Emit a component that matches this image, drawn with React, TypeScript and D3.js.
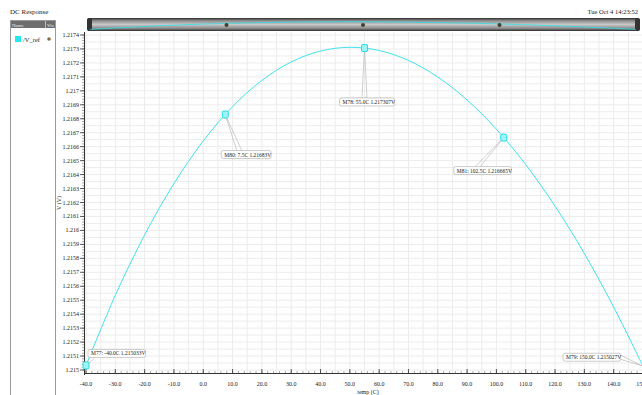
import * as d3 from "d3";

// DC sweep of the reference voltage over temperature
const temps = [-40, -30, -20, -10, 0, 10, 20, 30, 40, 50, 60, 70, 80, 90, 100, 110, 120, 130, 140, 150];
const vref = [
  1.215033, 1.215535, 1.215968, 1.216336, 1.216641, 1.216887, 1.217075, 1.217207, 1.217285, 1.217312,
  1.217289, 1.217218, 1.217099, 1.216934, 1.216725, 1.216471, 1.216174, 1.215834, 1.215451, 1.215027,
];

// markers
const markerNames = ["M77", "M80", "M78", "M81", "M79"];
const markerTemps = [-40, 7.5, 55, 102.5, 150];
const markerValues = [1.215033, 1.21683, 1.217307, 1.216665, 1.215027];
const markerTempText = ["-40.0C", "7.5C", "55.0C", "102.5C", "150.0C"];
const markerValueText = ["1.215033V", "1.21683V", "1.217307V", "1.216665V", "1.215027V"];

const xTickValues = d3.range(-40, 151, 10);
const yTickValues = d3.range(0, 25).map((i) => 1.215 + i * 0.0001);

// layout for the marker label boxes (offset of box from marker, anchor of leader on box)
const boxOffsets = [
  { dx: 2, dy: -16, ax: 4, ay: 9, side: false },
  { dx: -4, dy: 36, ax: 18, ay: 0, side: false },
  { dx: -25, dy: 50, ax: 25, ay: 0, side: false },
  { dx: -50, dy: 29, ax: 24, ay: 0, side: false },
  { dx: -80, dy: -13, ax: 55, ay: 4, side: true },
];

const W = 642;
const H = 395;
const serif = "'Liberation Serif', 'DejaVu Serif', serif";

export default function App() {
  const x = d3.scaleLinear().domain([-40, 150]).range([86, 643]);
  const y = d3.scaleLinear().domain([1.215, 1.2174]).range([370, 35]);
  const plotTop = 32;
  const plotBottom = 373;
  const plotLeft = 84;

  const pts: [number, number][] = temps.map((t, i) => [t, vref[i]]);
  const line = d3
    .line<[number, number]>()
    .x((d) => x(d[0]))
    .y((d) => y(d[1]))
    .curve(d3.curveCatmullRom);

  // overview in the top bar
  const xm = d3.scaleLinear().domain([-40, 150]).range([90, 636]);
  const ym = d3.scaleLinear().domain([1.215, 1.2174]).range([29.5, 21.5]);
  const miniLine = d3
    .line<[number, number]>()
    .x((d) => xm(d[0]))
    .y((d) => ym(d[1]))
    .curve(d3.curveCatmullRom);

  const vGrid = d3.range(-40, 151, 5);
  const hGrid = d3.range(0, 49).map((i) => 1.215 + i * 0.00005);
  const xMinor = d3.range(-40, 151, 2);
  const yMinor = d3.range(0, 121).map((i) => 1.215 + i * 0.00002);

  const fmtY = (v: number) => String(+v.toFixed(4));

  return (
    <svg
      width={W}
      height={H}
      style={{ position: "absolute", left: 0, top: 0, background: "#fff" }}
      fontFamily={serif}
    >
      {/* title & date */}
      <text x={10} y={14} fontSize={7} fill="#222">DC Response</text>
      <text x={638} y={14} fontSize={6.5} fill="#222" textAnchor="end">Tue Oct 4 14:23:52</text>

      {/* left legend panel */}
      <rect x={10.5} y={20.5} width={45} height={380} fill="#fff" stroke="#9a9a9a" strokeWidth={1} />
      <rect x={11} y={21} width={44} height={7} fill="#6e6e6e" />
      <line x1={45.5} y1={21} x2={45.5} y2={28} stroke="#bbb" />
      <text x={12} y={27} fontSize={5} fill="#eee">Name</text>
      <text x={47} y={27} fontSize={5} fill="#eee">Vis</text>
      <rect x={15} y={36} width={6} height={6} fill="#26e6ee" />
      <text x={23} y={42} fontSize={6.5} fill="#222">/V_ref</text>
      <circle cx={49} cy={39} r={1.8} fill="#8a6a3a" />

      {/* top overview bar */}
      <defs>
        <linearGradient id="bar" x1="0" y1="0" x2="0" y2="1">
          <stop offset="0" stopColor="#2c2c2c" />
          <stop offset="0.2" stopColor="#8a8a8a" />
          <stop offset="0.5" stopColor="#c8c8c8" />
          <stop offset="0.8" stopColor="#8a8a8a" />
          <stop offset="1" stopColor="#2c2c2c" />
        </linearGradient>
      </defs>
      <rect x={87} y={18} width={553} height={13} rx={3} fill="url(#bar)" />
      <rect x={87} y={18} width={5} height={13} rx={2} fill="#333" />
      <rect x={635} y={18} width={5} height={13} rx={2} fill="#333" />
      <path d={miniLine(pts) ?? ""} fill="none" stroke="#2fe0e8" strokeWidth={0.8} />
      {markerTemps.slice(1, 4).map((t, i) => (
        <circle key={i} cx={xm(t)} cy={25} r={2} fill="#3f4030" />
      ))}

      {/* grid */}
      {vGrid.map((t) => (
        <line key={"vg" + t} x1={x(t)} x2={x(t)} y1={plotTop} y2={plotBottom} stroke="#ececec" strokeWidth={1} />
      ))}
      {hGrid.map((v, i) => (
        <line key={"hg" + i} x1={plotLeft} x2={W} y1={y(v)} y2={y(v)} stroke="#ececec" strokeWidth={1} />
      ))}

      {/* y axis */}
      <line x1={plotLeft + 0.5} x2={plotLeft + 0.5} y1={plotTop} y2={plotBottom + 2} stroke="#333" />
      {yMinor.map((v, i) => (
        <line key={"ym" + i} x1={plotLeft - 2} x2={plotLeft} y1={y(v)} y2={y(v)} stroke="#555" strokeWidth={0.5} />
      ))}
      {yTickValues.map((v, i) => (
        <g key={"yt" + i}>
          <line x1={plotLeft - 4} x2={plotLeft} y1={y(v)} y2={y(v)} stroke="#333" strokeWidth={0.8} />
          <text x={plotLeft - 5} y={y(v) + 2} fontSize={6} textAnchor="end" fill="#222">
            {fmtY(v)}
          </text>
        </g>
      ))}
      <text transform={`translate(61,203) rotate(-90)`} fontSize={6} textAnchor="middle" fill="#222">V (V)</text>

      {/* x axis */}
      <line x1={plotLeft} x2={W} y1={plotBottom + 0.5} y2={plotBottom + 0.5} stroke="#333" />
      {xMinor.map((t) => (
        <line key={"xm" + t} x1={x(t)} x2={x(t)} y1={plotBottom - 2} y2={plotBottom} stroke="#555" strokeWidth={0.5} />
      ))}
      {xTickValues.map((t) => (
        <g key={"xt" + t}>
          <line x1={x(t)} x2={x(t)} y1={plotBottom - 4} y2={plotBottom} stroke="#333" strokeWidth={0.8} />
          <text x={x(t)} y={386} fontSize={6} textAnchor="middle" fill="#222">
            {t.toFixed(1)}
          </text>
        </g>
      ))}
      <text x={368} y={394} fontSize={6} textAnchor="middle" fill="#222">temp (C)</text>

      {/* curve */}
      <path d={line(pts) ?? ""} fill="none" stroke="#3fe3ea" strokeWidth={1} />

      {/* markers with labels */}
      {markerNames.map((name, i) => {
        const mx = x(markerTemps[i]);
        const my = y(markerValues[i]);
        const label = `${name}: ${markerTempText[i]} ${markerValueText[i]}`;
        const o = boxOffsets[i];
        const bw = label.length * 2.55 + 4;
        const bx = mx + o.dx;
        const by = my + o.dy;
        const bh = 8;
        const ax = bx + (o.side ? bw : o.ax);
        const ay = by + o.ay;
        const p1 = o.side ? [ax, ay - 2] : [ax - 2.5, ay];
        const p2 = o.side ? [ax, ay + 2] : [ax + 2.5, ay];
        return (
          <g key={name}>
            <line x1={mx} y1={my} x2={p1[0]} y2={p1[1]} stroke="#b0b0b0" strokeWidth={0.6} />
            <line x1={mx} y1={my} x2={p2[0]} y2={p2[1]} stroke="#b0b0b0" strokeWidth={0.6} />
            <rect x={bx} y={by} width={bw} height={bh} rx={2} fill="#fff" stroke="#a8a8a8" strokeWidth={0.6} />
            <text x={bx + 3} y={by + 6} fontSize={5.5} fill="#222">{label}</text>
            {i < 4 && (
              <rect x={mx - 3} y={my - 3.5} width={6} height={7} rx={1.5} fill="#9ff4f8" stroke="#22dde6" strokeWidth={1} />
            )}
          </g>
        );
      })}
    </svg>
  );
}
